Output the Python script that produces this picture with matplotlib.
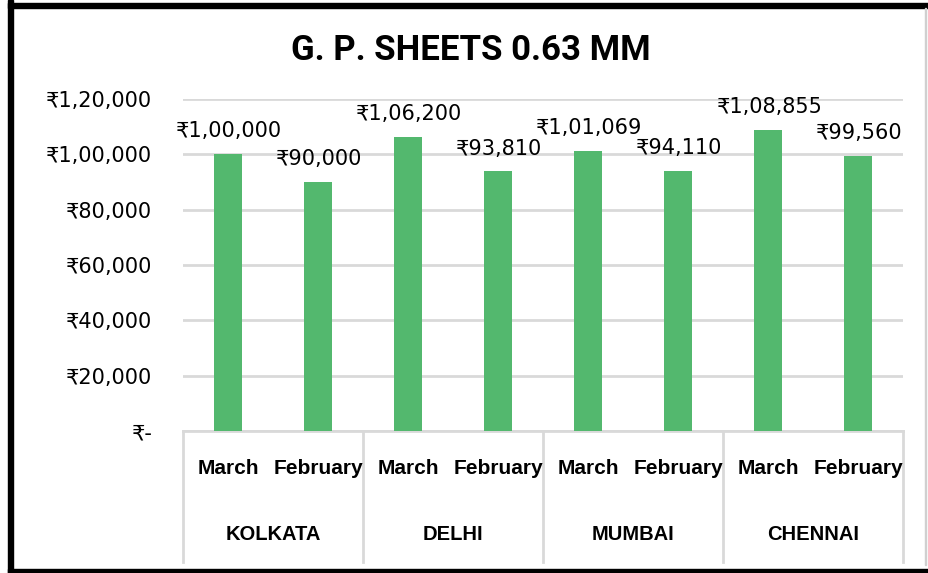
import matplotlib
matplotlib.use("Agg")
import matplotlib.pyplot as plt
from matplotlib.patches import Rectangle
import matplotlib.transforms as mtransforms

cities = ["KOLKATA", "DELHI", "MUMBAI", "CHENNAI"]
months = ["March", "February"]
values = [100000, 90000, 106200, 93810, 101069, 94110, 108855, 99560]
ytick_values = [0, 20000, 40000, 60000, 80000, 100000, 120000]
ytick_labels = ["₹-", "₹20,000", "₹40,000", "₹60,000", "₹80,000", "₹1,00,000", "₹1,20,000"]
title = "G. P. SHEETS 0.63 MM"


def inr(v):
    s = str(int(v))
    if len(s) <= 3:
        return "₹" + s
    last3 = s[-3:]
    rest = s[:-3]
    groups = []
    while len(rest) > 2:
        groups.insert(0, rest[-2:])
        rest = rest[:-2]
    if rest:
        groups.insert(0, rest)
    return "₹" + ",".join(groups + [last3])


W, H = 929, 573
fig = plt.figure(figsize=(W / 100, H / 100), dpi=100)
fig.patch.set_facecolor("white")

ax = fig.add_axes([183 / W, 1 - 431 / H, 720 / W, 332 / H])
x = list(range(len(values)))
bar_color = "#53b86e"
ax.bar(x, values, width=0.31, color=bar_color, zorder=3)
ax.set_xlim(-0.5, len(values) - 0.5)
ax.set_ylim(0, 120000)
ax.set_yticks(ytick_values)
ax.set_yticklabels(ytick_labels, family=["DejaVu Sans"], fontsize=15, color="black")
ax.tick_params(axis="y", length=0, pad=22)
ax.set_xticks([])
for s in ["top", "right", "left"]:
    ax.spines[s].set_visible(False)
ax.spines["bottom"].set_color("#d9d9d9")
ax.spines["bottom"].set_linewidth(2)
ax.yaxis.grid(True, color="#d9d9d9", linewidth=2, zorder=0)
ax.set_axisbelow(True)

for xi, v in zip(x, values):
    ax.annotate(inr(v), (xi, v), xytext=(1, 16.5), textcoords="offset points",
                ha="center", va="center", fontsize=15, family=["DejaVu Sans"], color="black")

trans = mtransforms.blended_transform_factory(ax.transData, ax.transAxes)
ylow = (431 - 562) / 332
for i in range(len(cities) + 1):
    bx = -0.5 + 2 * i
    ax.plot([bx, bx], [0, ylow], transform=trans, color="#d9d9d9", lw=2, clip_on=False)

for i, c in enumerate(cities):
    for j, m in enumerate(months):
        ax.text(2 * i + j, (431 - 469) / 332, m, transform=trans, ha="center", va="center",
                fontsize=15, fontweight="bold", family=["Liberation Sans", "DejaVu Sans"])
    ax.text(2 * i + 0.5, (431 - 534) / 332, c, transform=trans, ha="center", va="center",
            fontsize=14.5, fontweight="bold", family=["Liberation Sans", "DejaVu Sans"])

fig.text(471 / W, 1 - 50 / H, title, ha="center", va="center", fontsize=25, fontweight="bold",
         family=["Roboto", "Liberation Sans", "DejaVu Sans"])

# chart border
fig.patches.append(Rectangle((8 / W, 0), 5 / W, 1, transform=fig.transFigure, color="black", zorder=10))
fig.patches.append(Rectangle((8 / W, 1 - 8 / H), 1, 5 / H, transform=fig.transFigure, color="black", zorder=10))
fig.patches.append(Rectangle((8 / W, 0), 1, 4 / H, transform=fig.transFigure, color="black", zorder=10))
fig.patches.append(Rectangle((925 / W, 8 / H), 1.5 / W, 1 - 16 / H, transform=fig.transFigure, color="#d0d0d0", zorder=10))

fig.savefig("out.png", dpi=100)
